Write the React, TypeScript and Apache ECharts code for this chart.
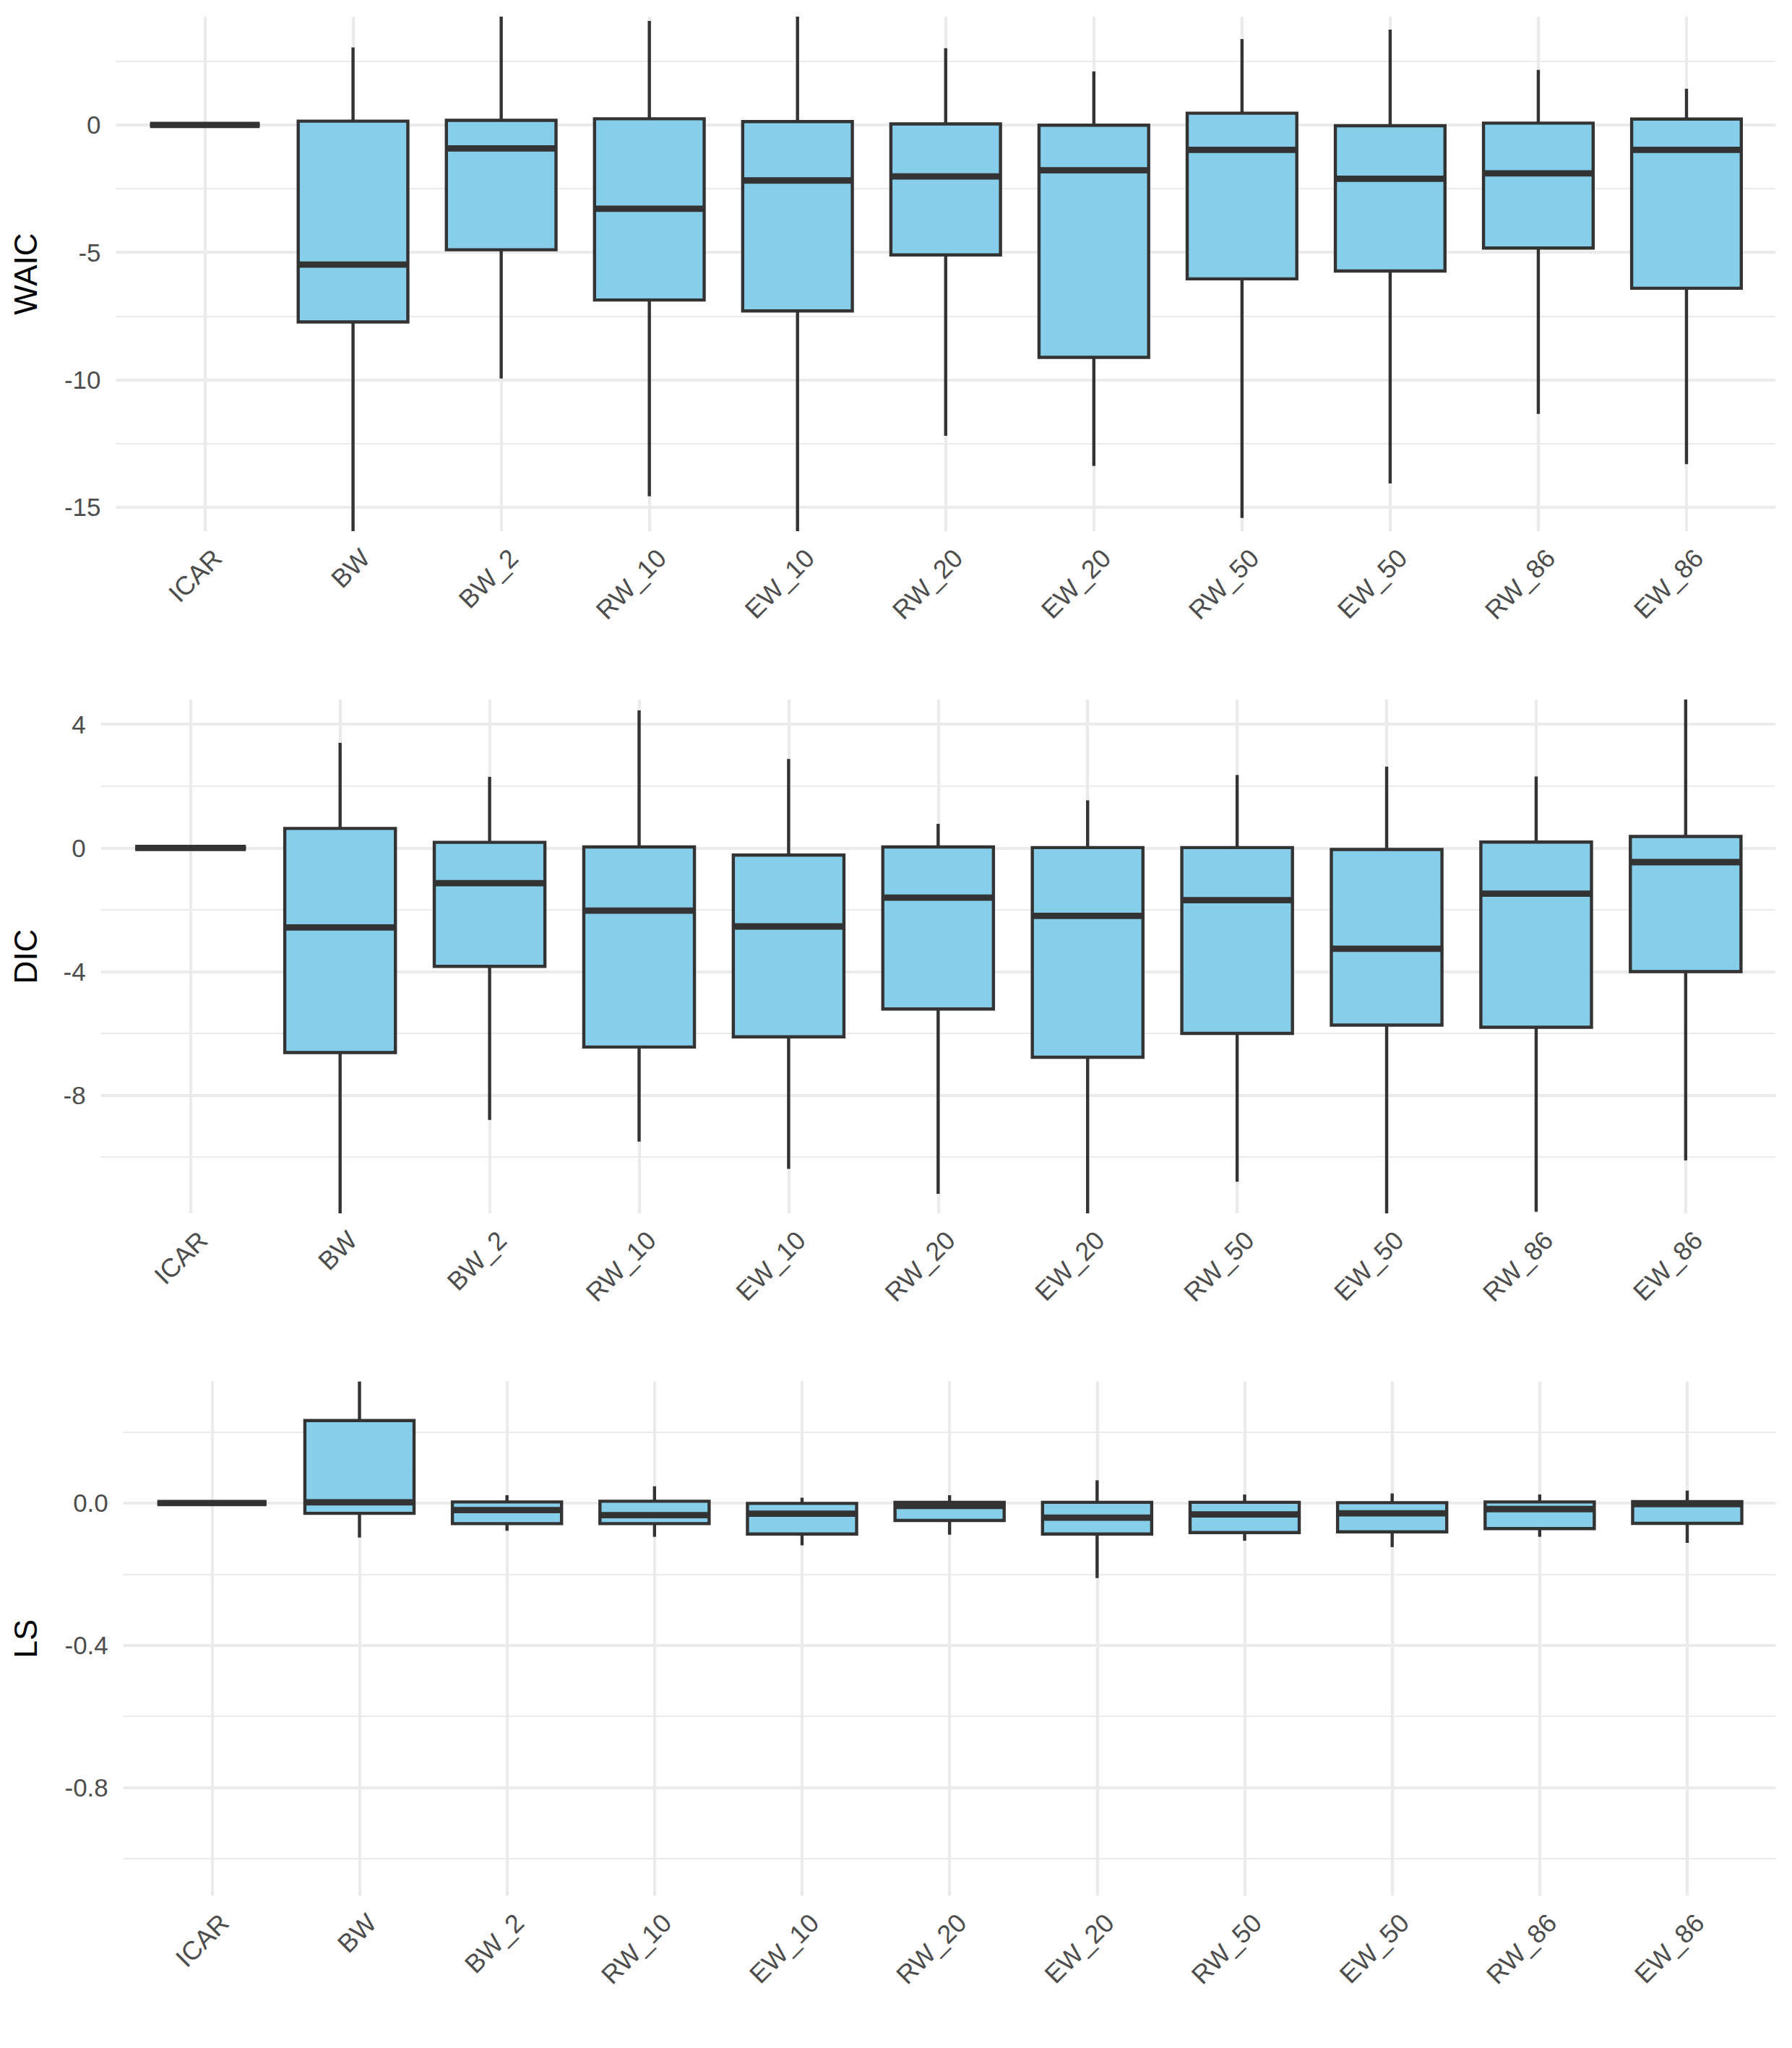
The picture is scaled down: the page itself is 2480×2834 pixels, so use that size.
import React, { useEffect, useRef } from "react";
import * as echarts from "echarts";

// ---------- data ----------
const CATEGORIES = ["ICAR", "BW", "BW_2", "RW_10", "EW_10", "RW_20", "EW_20", "RW_50", "EW_50", "RW_86", "EW_86"];

// each box: [lower whisker, Q1, median, Q3, upper whisker]
const WAIC_BOXES = [
  [0, 0, 0, 0, 0],
  [-15.94, -7.73, -5.48, 0.15, 3.04],
  [-9.95, -4.9, -0.92, 0.18, 4.25],
  [-14.57, -6.87, -3.29, 0.24, 4.08],
  [-15.94, -7.3, -2.18, 0.13, 4.25],
  [-12.2, -5.1, -2.02, 0.04, 3.01],
  [-13.38, -9.12, -1.78, -0.01, 2.1],
  [-15.42, -6.04, -0.98, 0.46, 3.37],
  [-14.07, -5.73, -2.11, -0.03, 3.74],
  [-11.34, -4.83, -1.9, 0.07, 2.16],
  [-13.31, -6.41, -0.98, 0.23, 1.42],
];
const DIC_BOXES = [
  [0, 0, 0, 0, 0],
  [-11.82, -6.62, -2.57, 0.63, 3.4],
  [-8.8, -3.83, -1.14, 0.18, 2.3],
  [-9.5, -6.44, -2.03, 0.03, 4.45],
  [-10.38, -6.11, -2.54, -0.23, 2.88],
  [-11.19, -5.21, -1.61, 0.03, 0.78],
  [-11.82, -6.77, -2.2, 0.01, 1.54],
  [-10.8, -6.0, -1.69, 0.01, 2.36],
  [-11.82, -5.73, -3.26, -0.05, 2.63],
  [-11.77, -5.8, -1.48, 0.19, 2.31],
  [-10.11, -4.0, -0.46, 0.37, 4.8],
];
const LS_BOXES = [
  [0, 0, 0, 0, 0],
  [-0.097, -0.029, 0.002, 0.232, 0.342],
  [-0.078, -0.058, -0.02, 0.003, 0.022],
  [-0.095, -0.058, -0.034, 0.005, 0.047],
  [-0.119, -0.087, -0.03, -0.001, 0.015],
  [-0.089, -0.049, -0.008, 0.002, 0.022],
  [-0.211, -0.087, -0.041, 0.002, 0.064],
  [-0.106, -0.083, -0.032, 0.002, 0.024],
  [-0.124, -0.081, -0.029, 0.001, 0.027],
  [-0.095, -0.072, -0.017, 0.003, 0.024],
  [-0.112, -0.057, -0.003, 0.004, 0.035],
];

const WAIC_TICKS = [-15, -10, -5, 0];
const WAIC_MINOR = [-12.5, -7.5, -2.5, 2.5];
const WAIC_RANGE = [-15.94, 4.25];
const DIC_TICKS = [-8, -4, 0, 4];
const DIC_MINOR = [-10, -6, -2, 2];
const DIC_RANGE = [-11.82, 4.8];
const LS_TICKS = [-0.8, -0.4, 0];
const LS_MINOR = [-1.0, -0.6, -0.2, 0.2];
const LS_RANGE = [-1.105, 0.342];

const TITLES = ["WAIC", "DIC", "LS"];

// ---------- styles / layout ----------
const FONT = '"Liberation Sans", Arial, Helvetica, sans-serif';
const FILL = "#87CEEB";
const STROKE = "#333333";
const GRID_COLOR = "#EBEBEB";
const LW = 4.4;
const MAJOR_W = 4.2;
const MINOR_W = 2.1;
const BOX_WIDTH = 0.74;

const LAYOUT = [
  { left: 160.5, top: 23, width: 2296.5, height: 712, titleY: 379 },
  { left: 139.6, top: 968, width: 2317.4, height: 711, titleY: 1323.5 },
  { left: 170.8, top: 1911.6, width: 2286.7, height: 712, titleY: 2267.5 },
];

const PANELS = [
  { boxes: WAIC_BOXES, ticks: WAIC_TICKS, minor: WAIC_MINOR, range: WAIC_RANGE, fmt: (v: number) => String(v) },
  { boxes: DIC_BOXES, ticks: DIC_TICKS, minor: DIC_MINOR, range: DIC_RANGE, fmt: (v: number) => String(v) },
  { boxes: LS_BOXES, ticks: LS_TICKS, minor: LS_MINOR, range: LS_RANGE, fmt: (v: number) => v.toFixed(1) },
];

function renderBox(params: any, api: any) {
  const x = api.value(0);
  const lo = api.value(1);
  const q1 = api.value(2);
  const med = api.value(3);
  const q3 = api.value(4);
  const hi = api.value(5);
  const half = (api.size([1, 0])[0] * BOX_WIDTH) / 2;
  const cx = api.coord([x, med])[0];
  const y = (v: number) => api.coord([x, v])[1];
  const lineStyle = { stroke: STROKE, lineWidth: LW, lineCap: "butt" };
  return {
    type: "group",
    children: [
      { type: "line", shape: { x1: cx, y1: y(hi), x2: cx, y2: y(q3) }, style: lineStyle },
      { type: "line", shape: { x1: cx, y1: y(q1), x2: cx, y2: y(lo) }, style: lineStyle },
      {
        type: "rect",
        shape: { x: cx - half, y: y(q3), width: 2 * half, height: y(q1) - y(q3) },
        style: { fill: FILL, stroke: STROKE, lineWidth: LW },
      },
      {
        type: "line",
        shape: { x1: cx - half, y1: y(med), x2: cx + half, y2: y(med) },
        style: { stroke: STROKE, lineWidth: LW * 2, lineCap: "butt" },
      },
    ],
  };
}

export default function App() {
  const ref = useRef<HTMLDivElement>(null);

  useEffect(() => {
    if (!ref.current) return;
    const chart = echarts.init(ref.current, undefined, { renderer: "svg" });
    const catPos = CATEGORIES.map((_, i) => i + 1);

    const grids = LAYOUT.map((l) => ({ left: l.left, top: l.top, width: l.width, height: l.height, containLabel: false }));

    const xAxes = PANELS.map((_, i) => ({
      type: "value",
      gridIndex: i,
      min: 0.4,
      max: 11.6,
      axisLine: { show: false },
      axisTick: { show: false },
      splitLine: { show: false },
      axisLabel: {
        customValues: catPos,
        formatter: (v: number) => CATEGORIES[Math.round(v) - 1] ?? "",
        rotate: 45,
        align: "right",
        verticalAlign: "top",
        lineHeight: 48,
        margin: 14,
        fontSize: 36,
        color: "#4D4D4D",
        fontFamily: FONT,
      },
    }));

    const yAxes = PANELS.map((p, i) => ({
      type: "value",
      gridIndex: i,
      min: p.range[0],
      max: p.range[1],
      axisLine: { show: false },
      axisTick: { show: false },
      splitLine: { show: false },
      axisLabel: {
        customValues: p.ticks,
        formatter: p.fmt,
        margin: 21,
        fontSize: 35,
        color: "#4D4D4D",
        fontFamily: FONT,
        padding: [0, 0, 7, 0],
      },
    }));

    const series: any[] = [];
    PANELS.forEach((p, i) => {
      const gridLines: any[] = [];
      p.minor.forEach((v) => gridLines.push({ yAxis: v, lineStyle: { width: MINOR_W } }));
      p.ticks.forEach((v) => gridLines.push({ yAxis: v, lineStyle: { width: MAJOR_W } }));
      catPos.forEach((v) => gridLines.push({ xAxis: v, lineStyle: { width: MAJOR_W } }));
      series.push({
        type: "line",
        xAxisIndex: i,
        yAxisIndex: i,
        data: [[1, 0]],
        symbol: "none",
        showSymbol: false,
        lineStyle: { opacity: 0 },
        silent: true,
        z: 1,
        markLine: {
          silent: true,
          symbol: ["none", "none"],
          label: { show: false },
          animation: false,
          lineStyle: { type: "solid", color: GRID_COLOR, width: MAJOR_W },
          emphasis: { disabled: true },
          data: gridLines,
        },
      });
      series.push({
        type: "custom",
        xAxisIndex: i,
        yAxisIndex: i,
        clip: true,
        z: 5,
        renderItem: renderBox,
        encode: { x: 0, y: [1, 2, 3, 4, 5] },
        data: p.boxes.map((b, k) => [k + 1, ...b]),
      });
    });

    const graphic = LAYOUT.map((l, i) => ({
      type: "text",
      x: 35,
      y: l.titleY,
      rotation: Math.PI / 2,
      style: {
        text: TITLES[i],
        fontSize: 44,
        fill: "#000000",
        align: "center",
        verticalAlign: "middle",
        fontFamily: FONT,
      },
    }));

    chart.setOption({
      animation: false,
      backgroundColor: "#FFFFFF",
      grid: grids,
      xAxis: xAxes,
      yAxis: yAxes,
      series,
      graphic,
    });

    return () => chart.dispose();
  }, []);

  return <div ref={ref} style={{ position: "absolute", left: 0, top: 0, width: 2480, height: 2834 }} />;
}
